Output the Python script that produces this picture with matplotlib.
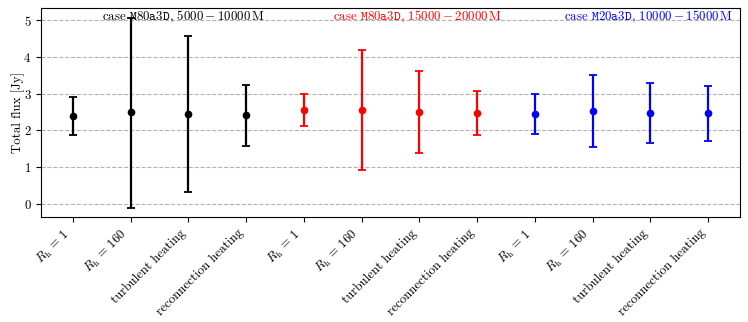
import numpy as np
import matplotlib
matplotlib.use('Agg')
import matplotlib.pyplot as plt

plt.rcParams['font.family'] = 'serif'
plt.rcParams['font.serif'] = ['cmr10', 'DejaVu Serif']
plt.rcParams['mathtext.fontset'] = 'cm'
plt.rcParams['axes.formatter.use_mathtext'] = True

labels = [r'$R_\mathrm{h}\,=\,1$', r'$R_\mathrm{h}\,=\,160$', 'turbulent heating', 'reconnection heating'] * 3

# flux means and asymmetric errors (lower, upper) for each case
black_mean = [2.40, 2.50, 2.45, 2.41]
black_lo = [1.88, -0.11, 0.32, 1.57]
black_hi = [2.91, 5.08, 4.58, 3.23]

red_mean = [2.56, 2.56, 2.50, 2.47]
red_lo = [2.13, 0.91, 1.39, 1.88]
red_hi = [2.99, 4.19, 3.62, 3.07]

blue_mean = [2.45, 2.53, 2.48, 2.46]
blue_lo = [1.90, 1.55, 1.66, 1.71]
blue_hi = [2.99, 3.50, 3.30, 3.22]

cases = [
    (black_mean, black_lo, black_hi, 'black', r'case $\mathtt{M80a3D}$, $5000-10000\,\mathrm{M}$'),
    (red_mean, red_lo, red_hi, 'red', r'case $\mathtt{M80a3D}$, $15000-20000\,\mathrm{M}$'),
    (blue_mean, blue_lo, blue_hi, 'blue', r'case $\mathtt{M20a3D}$, $10000-15000\,\mathrm{M}$'),
]

fig = plt.figure(figsize=(7.48, 3.22), dpi=100)
ax = fig.add_axes([0.055, 0.326, 0.934, 0.649])

for i, (m, lo, hi, c, txt) in enumerate(cases):
    x = np.arange(4) + 4 * i
    m = np.array(m)
    yerr = [m - np.array(lo), np.array(hi) - m]
    ax.errorbar(x, m, yerr=yerr, fmt='o', color=c, ms=4.5, lw=1.6, capsize=3, capthick=1.3)
    ax.text(4 * i + 0.5, 5.0, txt, color=c, ha='left', va='baseline', fontsize=9.3)

ax.set_xticks(np.arange(12))
ax.set_xticklabels(labels, rotation=45, ha='right', fontsize=9.3)
ax.tick_params(labelsize=9.3)
ax.set_ylabel('Total flux [Jy]', fontsize=9.3, labelpad=-1)
ax.yaxis.grid(True, ls='--', color='0.7')
ax.set_axisbelow(True)

plt.savefig('out.png', dpi=100)
